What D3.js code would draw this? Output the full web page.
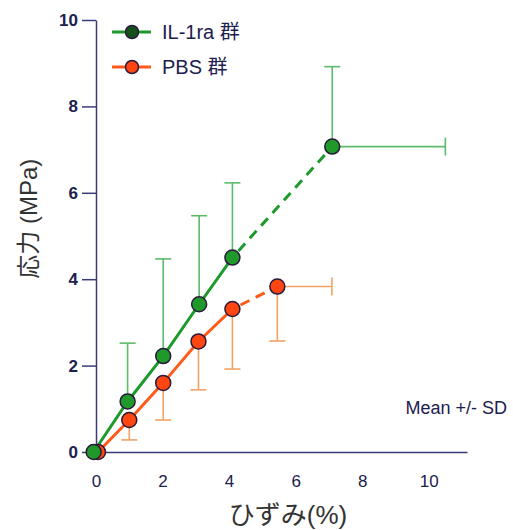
<!DOCTYPE html>
<html>
<head>
<meta charset="utf-8">
<script src="https://cdn.jsdelivr.net/npm/d3@7"></script>
<style>
  body { margin: 0; background: #fff; }
  svg { display: block; font-family: "Liberation Sans", "Noto Sans CJK JP", sans-serif; }
</style>
</head>
<body>
<svg width="513" height="530"></svg>
<script>
// IL-1ra group (mean, upper SD; last point also has SD on strain)
const ilX = [-0.07, 0.95, 2.02, 3.1, 4.1, 7.1]
const ilY = [0, 1.17, 2.22, 3.42, 4.5, 7.07]
const ilSdY = [0, 1.35, 2.25, 2.05, 1.73, 1.85]
const ilSdX = [0, 0, 0, 0, 0, 3.4]

// PBS group (mean, lower SD)
const pbsX = [0.06, 1.0, 2.02, 3.08, 4.1, 5.45]
const pbsY = [0, 0.74, 1.6, 2.56, 3.31, 3.83]
const pbsSdY = [0, 0.46, 0.86, 1.12, 1.39, 1.26]
const pbsSdX = [0, 0, 0, 0, 0, 1.64]

const xTicks = [0, 2, 4, 6, 8, 10]
const yTicks = [0, 2, 4, 6, 8, 10]
const dashFrom = 4   // segments after this point are dashed

const svg = d3.select('svg')
const x = d3.scaleLinear().domain([0, 11.15]).range([96, 467])
const y = d3.scaleLinear().domain([0, 10]).range([452, 20])

const axisColor = '#3b3b78'
const textColor = '#20204e'

// axes
const gy = svg.append('g').attr('transform', `translate(${x(0)},0)`)
    .call(d3.axisLeft(y).tickValues(yTicks).tickSizeInner(14).tickSizeOuter(0).tickPadding(4))
gy.select('.domain').attr('stroke', axisColor).attr('stroke-width', 1.5)
gy.selectAll('.tick line').attr('stroke', axisColor).attr('stroke-width', 1.5)
gy.selectAll('.tick text').attr('fill', textColor).attr('font-size', 17).attr('font-weight', 'bold')
    .attr('font-family', '"Liberation Sans", sans-serif')

const gx = svg.append('g').attr('transform', `translate(0,${y(0)})`)
    .call(d3.axisBottom(x).tickValues(xTicks).tickSize(0).tickPadding(23))
gx.select('.domain').attr('stroke', axisColor).attr('stroke-width', 1.5)
gx.selectAll('.tick text').attr('fill', textColor).attr('font-size', 17)
    .attr('font-family', '"Liberation Sans", sans-serif')

// axis titles
svg.append('text').attr('transform', `translate(37,${y(5.4)}) rotate(-90)`)
    .attr('text-anchor', 'middle').attr('font-size', 24).attr('fill', '#333')
    .text('応力 (MPa)')
svg.append('text').attr('x', 288).attr('y', 524)
    .attr('text-anchor', 'middle').attr('font-size', 26).attr('fill', '#333')
    .text('ひずみ(%)')

svg.append('text').attr('x', 507).attr('y', 414).attr('text-anchor', 'end')
    .attr('font-size', 18).attr('fill', textColor).text('Mean +/- SD')

const groups = [
    {xs: ilX, ys: ilY, sdY: ilSdY, sdX: ilSdX, dir: -1, line: '#1c9a2c', bar: '#5cbb6a', fill: '#1f9a2a', legFill: '#14501a', name: 'IL-1ra 群', ly: 32},
    {xs: pbsX, ys: pbsY, sdY: pbsSdY, sdX: pbsSdX, dir: 1, line: '#ff5a1a', bar: '#f2a264', fill: '#ff4612', legFill: '#ff4612', name: 'PBS 群', ly: 67}
]

const cap = 8
// error bars
groups.forEach(gr => {
    const g = svg.append('g').attr('stroke', gr.bar).attr('stroke-width', 1.6).attr('fill', 'none')
    gr.xs.forEach((xv, i) => {
        if (gr.sdY[i] > 0) {
            const yEnd = y(gr.ys[i] - gr.dir * gr.sdY[i])
            g.append('line').attr('x1', x(xv)).attr('x2', x(xv)).attr('y1', y(gr.ys[i])).attr('y2', yEnd)
            g.append('line').attr('x1', x(xv) - cap).attr('x2', x(xv) + cap).attr('y1', yEnd).attr('y2', yEnd)
        }
        if (gr.sdX[i] > 0) {
            const xEnd = x(xv + gr.sdX[i])
            g.append('line').attr('x1', x(xv)).attr('x2', xEnd).attr('y1', y(gr.ys[i])).attr('y2', y(gr.ys[i]))
            g.append('line').attr('x1', xEnd).attr('x2', xEnd).attr('y1', y(gr.ys[i]) - 9).attr('y2', y(gr.ys[i]) + 9)
        }
    })
})

// lines
const line = d3.line().x(d => x(d[0])).y(d => y(d[1]))
groups.slice().reverse().forEach(gr => {
    const pts = gr.xs.map((xv, i) => [xv, gr.ys[i]])
    svg.append('path').attr('d', line(pts.slice(0, dashFrom + 1)))
        .attr('fill', 'none').attr('stroke', gr.line).attr('stroke-width', 3)
    svg.append('path').attr('d', line(pts.slice(dashFrom)))
        .attr('fill', 'none').attr('stroke', gr.line).attr('stroke-width', 3)
        .attr('stroke-dasharray', '10,7').attr('stroke-dashoffset', -9)
})

// points
groups.slice().reverse().forEach(gr => {
    svg.append('g').selectAll('circle').data(gr.xs).join('circle')
        .attr('cx', d => x(d)).attr('cy', (d, i) => y(gr.ys[i])).attr('r', 7.5)
        .attr('fill', gr.fill).attr('stroke', '#2a1a3a').attr('stroke-width', 1.5)
})

// legend
groups.forEach(gr => {
    const g = svg.append('g').attr('transform', `translate(112,${gr.ly})`)
    g.append('line').attr('x1', 0).attr('x2', 39).attr('stroke', gr.line).attr('stroke-width', 3)
    g.append('circle').attr('cx', 20).attr('r', 6.5).attr('fill', gr.legFill)
        .attr('stroke', '#2a1a3a').attr('stroke-width', 1.5)
    g.append('text').attr('x', 50).attr('dy', '0.35em').attr('font-size', 20)
        .attr('fill', textColor).text(gr.name)
})
</script>
</body>
</html>
